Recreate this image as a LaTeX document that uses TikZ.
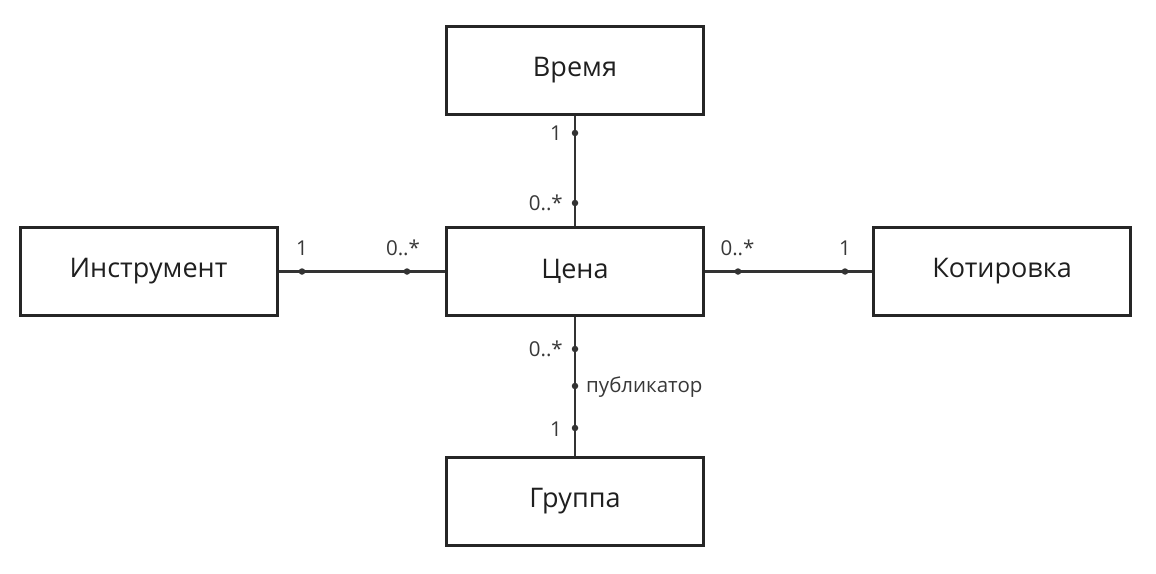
\documentclass[tikz,border=0pt]{standalone}
\usepackage{fontspec}
\setmainfont{Open Sans}
\begin{document}
\begin{tikzpicture}[x=1pt,y=-1pt,
  cls/.style={draw=black!85, line width=3pt, minimum width=257pt, minimum height=88pt, inner sep=0pt, font=\fontsize{27}{32}\selectfont, text=black!88},
  conn/.style={draw=black!80, line width=2.8pt},
  lbl/.style={font=\fontsize{20.5}{24}\selectfont, text=black!78, inner sep=0pt},
  dotc/.style={fill=black!80, circle, inner sep=0pt, minimum size=6.5pt}]
\useasboundingbox (0,0) rectangle (1156,573);
\node[cls] (vremya) at (575,70.5) {Время};
\node[cls] (instr) at (148.5,271.5) {Инструмент};
\node[cls] (cena) at (575,271.5) {Цена};
\node[cls] (kotir) at (1002,271.5) {Котировка};
\node[cls] (gruppa) at (575,501.5) {Группа};
\draw[conn] (vremya) -- (cena);
\draw[conn] (instr) -- (cena);
\draw[conn] (cena) -- (kotir);
\draw[conn] (cena) -- (gruppa);
% dots
\node[dotc] (d1) at (575,133) {};
\node[dotc] (d2) at (575,203) {};
\node[dotc] (d3) at (302,271.5) {};
\node[dotc] (d4) at (407,271.5) {};
\node[dotc] (d5) at (738,271.5) {};
\node[dotc] (d6) at (845,271.5) {};
\node[dotc] (d7) at (575,349) {};
\node[dotc] (d8) at (575,386) {};
\node[dotc] (d9) at (575,428) {};
% labels
\node[lbl, anchor=base east] at ([xshift=-13pt,yshift=-7.5pt]d1.center) {1};
\node[lbl, anchor=base east] at ([xshift=-12pt,yshift=-7.5pt]d2.center) {0..*};
\node[lbl, anchor=base] at ([yshift=16.5pt]d3.center) {1};
\node[lbl, anchor=base] at ([xshift=-4pt,yshift=16.5pt]d4.center) {0..*};
\node[lbl, anchor=base] at ([xshift=-0.5pt,yshift=16.5pt]d5.center) {0..*};
\node[lbl, anchor=base] at ([yshift=16.5pt]d6.center) {1};
\node[lbl, anchor=base east] at ([xshift=-12pt,yshift=-7.5pt]d7.center) {0..*};
\node[lbl, anchor=base west] at ([xshift=11pt,yshift=-6.7pt]d8.center) {публикатор};
\node[lbl, anchor=base east] at ([xshift=-13pt,yshift=-8pt]d9.center) {1};
\end{tikzpicture}
\end{document}
